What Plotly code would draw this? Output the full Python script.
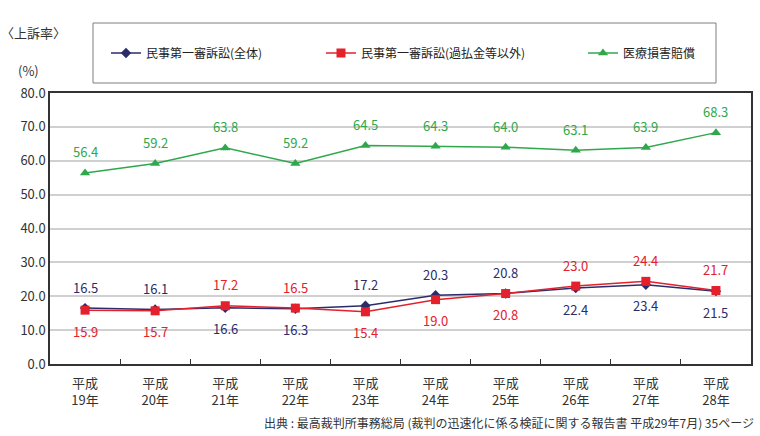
import plotly.graph_objects as go

categories = ["平成<br>19年", "平成<br>20年", "平成<br>21年", "平成<br>22年", "平成<br>23年",
              "平成<br>24年", "平成<br>25年", "平成<br>26年", "平成<br>27年", "平成<br>28年"]
civil_all = [16.5, 16.1, 16.6, 16.3, 17.2, 20.3, 20.8, 22.4, 23.4, 21.5]
civil_excl = [15.9, 15.7, 17.2, 16.5, 15.4, 19.0, 20.8, 23.0, 24.4, 21.7]
medical = [56.4, 59.2, 63.8, 59.2, 64.5, 64.3, 64.0, 63.1, 63.9, 68.3]
# label placement: 1 = above, -1 = below
civil_all_pos = [1, 1, -1, -1, 1, 1, 1, -1, -1, -1]
civil_excl_pos = [-1, -1, 1, 1, -1, -1, -1, 1, 1, 1]
medical_pos = [1] * 10

NAVY = "#2b2d6a"
RED = "#e3202c"
GREEN = "#2ea84b"
FONT = "Noto Sans CJK JP"

L, R, T, B = 50, 9, 93, 72
PW, PH = 760 - L - R, 436 - T - B


def px(xp):
    return (xp - L) / PW


def py(yp):
    return (436 - B - yp) / PH


fig = go.Figure()
series = [
    ("民事第一審訴訟(全体)", civil_all, civil_all_pos, NAVY, "diamond", 8, "legend"),
    ("民事第一審訴訟(過払金等以外)", civil_excl, civil_excl_pos, RED, "square", 9, "legend2"),
    ("医療損害賠償", medical, medical_pos, GREEN, "triangle-up", 9, "legend3"),
]
for name, vals, pos, col, sym, sz, lg in series:
    fig.add_trace(go.Scatter(
        x=categories, y=vals, name=name, mode="lines+markers",
        line=dict(color=col, width=1.5),
        marker=dict(symbol=sym, size=sz, color=col),
        legend=lg,
    ))
    for c, v, p in zip(categories, vals, pos):
        fig.add_annotation(x=c, y=v, text=f"{v:.1f}", showarrow=False,
                           yshift=21 * p, font=dict(family=FONT, size=13, color=col))

fig.add_shape(type="rect", xref="paper", yref="paper",
              x0=px(93), x1=px(716), y0=py(83), y1=py(23),
              line=dict(color="#7f7f7f", width=1))

fig.add_annotation(xref="paper", yref="paper", x=px(33), y=py(33), text="〈上訴率〉",
                   showarrow=False, xanchor="center", yanchor="middle",
                   font=dict(family=FONT, size=13, color="#333"))
fig.add_annotation(xref="paper", yref="paper", x=px(28), y=py(70), text="(%)",
                   showarrow=False, xanchor="center", yanchor="middle",
                   font=dict(family=FONT, size=13, color="#333"))
fig.add_annotation(xref="paper", yref="paper", x=px(756), y=py(422),
                   text="出典 : 最高裁判所事務総局 (裁判の迅速化に係る検証に関する報告書 平成29年7月) 35ページ",
                   showarrow=False, xanchor="right", yanchor="middle",
                   font=dict(family=FONT, size=12, color="#333"))

leg_common = dict(orientation="h", y=py(53), xanchor="left", yanchor="middle",
                  itemwidth=30, font=dict(family=FONT, size=12, color="#222"),
                  bgcolor="rgba(0,0,0,0)")
fig.update_layout(
    width=760, height=436,
    margin=dict(l=L, r=R, t=T, b=B, autoexpand=False),
    paper_bgcolor="white", plot_bgcolor="white",
    font=dict(family=FONT, size=13, color="#333"),
    showlegend=True,
    legend=dict(x=px(106), **leg_common),
    legend2=dict(x=px(321), **leg_common),
    legend3=dict(x=px(583), **leg_common),
    xaxis=dict(type="category", range=[-0.5, 9.5], showgrid=False,
               ticks="inside", tickson="boundaries", ticklen=5, tickcolor="#333",
               showline=True, linecolor="#333", linewidth=1.5, mirror=True,
               ticklabelstandoff=7,
               tickfont=dict(family=FONT, size=13, color="#333")),
    yaxis=dict(range=[0, 80], dtick=10, tickformat=".1f", showgrid=True,
               gridcolor="#d0d0d0", gridwidth=1.5,
               showline=True, linecolor="#333", linewidth=1.5, mirror=True,
               ticks="", zeroline=False,
               tickfont=dict(family=FONT, size=13, color="#333")),
)

fig.write_html("out.html", config={"displayModeBar": False},
               post_script="document.body.style.margin='0';")
